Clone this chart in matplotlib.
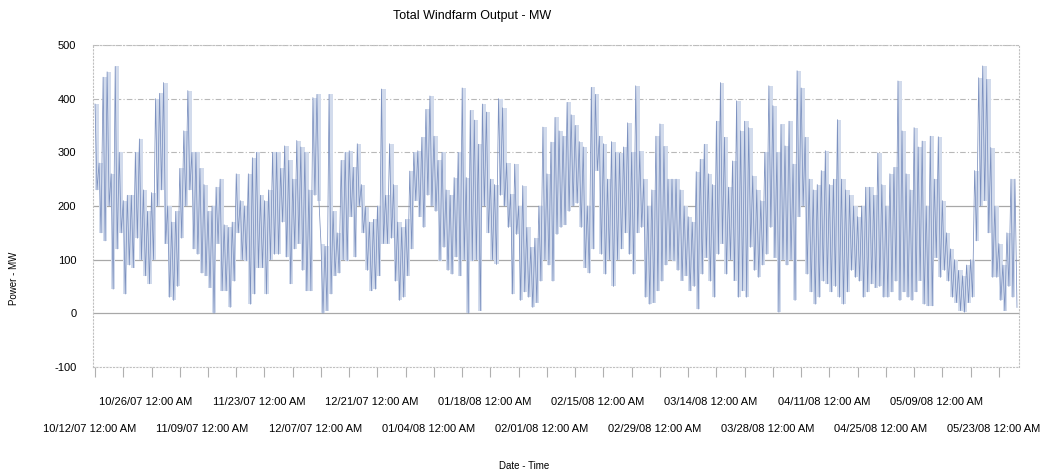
import numpy as np
import matplotlib
matplotlib.use('Agg')
import matplotlib.pyplot as plt
import matplotlib.dates as mdates
import matplotlib.transforms as mtransforms

plt.rcParams['font.family'] = ['Liberation Sans', 'DejaVu Sans']
plt.rcParams['axes.unicode_minus'] = False

# daily high / low of the windfarm output (MW), from 10/12/07
day_high = [390, 280, 440, 450, 260, 460, 300, 210, 220, 220,
            300, 325, 230, 190, 225, 400, 410, 430, 200, 170,
            190, 270, 340, 415, 300, 300, 270, 240, 190, 200,
            235, 250, 165, 160, 170, 260, 210, 200, 260, 290,
            300, 220, 210, 230, 300, 300, 270, 312, 285, 250,
            322, 310, 300, 230, 402, 408, 130, 125, 408, 190,
            150, 285, 300, 303, 272, 316, 240, 198, 170, 175,
            200, 418, 220, 316, 240, 170, 160, 175, 265, 300,
            303, 328, 380, 405, 330, 285, 300, 230, 220, 253,
            300, 420, 253, 378, 360, 315, 390, 375, 250, 240,
            400, 383, 280, 222, 278, 200, 238, 160, 123, 140,
            200, 347, 260, 319, 365, 340, 330, 393, 370, 350,
            320, 310, 200, 421, 408, 330, 316, 250, 320, 300,
            298, 310, 355, 300, 424, 302, 250, 200, 230, 330,
            353, 311, 250, 250, 250, 230, 200, 180, 170, 264,
            287, 315, 260, 240, 358, 430, 328, 235, 284, 396,
            340, 358, 346, 256, 230, 210, 300, 424, 387, 300,
            352, 312, 358, 278, 452, 420, 328, 250, 230, 240,
            266, 303, 240, 250, 361, 250, 230, 220, 200, 180,
            200, 235, 235, 220, 299, 240, 200, 260, 272, 433,
            340, 260, 230, 346, 310, 321, 200, 330, 250, 329,
            210, 150, 120, 100, 80, 70, 90, 100, 266, 439,
            461, 436, 309, 200, 130, 90, 150, 250, 250]

day_low = [230, 150, 135, 200, 45, 120, 150, 36, 90, 85,
           140, 100, 70, 55, 100, 200, 230, 130, 30, 24,
           50, 140, 200, 230, 120, 110, 75, 70, 48, 0,
           130, 42, 42, 11, 60, 150, 100, 98, 17, 36,
           85, 85, 36, 100, 110, 110, 170, 105, 55, 120,
           130, 80, 42, 42, 220, 210, 0, 5, 36, 70,
           75, 100, 98, 180, 105, 200, 150, 80, 42, 45,
           70, 130, 130, 140, 60, 24, 30, 70, 120, 210,
           180, 160, 220, 200, 190, 98, 123, 80, 73, 105,
           70, 100, 0, 98, 100, 5, 200, 150, 100, 91,
           220, 200, 160, 36, 147, 24, 40, 30, 11, 20,
           60, 100, 90, 60, 147, 160, 165, 190, 200, 205,
           160, 85, 75, 120, 266, 110, 73, 100, 50, 100,
           120, 150, 110, 73, 150, 160, 30, 17, 20, 42,
           60, 90, 100, 98, 80, 61, 70, 42, 50, 8,
           73, 104, 60, 30, 110, 130, 73, 100, 61, 30,
           42, 30, 123, 80, 67, 90, 110, 160, 104, 2,
           100, 90, 100, 24, 180, 200, 73, 40, 17, 30,
           60, 55, 40, 50, 30, 17, 40, 80, 67, 60,
           30, 40, 55, 48, 50, 30, 30, 40, 60, 24,
           40, 30, 24, 40, 61, 17, 14, 14, 104, 67,
           80, 60, 30, 20, 5, 2, 20, 30, 135, 200,
           210, 150, 67, 67, 24, 5, 50, 30, 11]

start = np.datetime64('2007-10-12T00:00')
upper_labels = ['10/26/07', '11/23/07', '12/21/07', '01/18/08',
                '02/15/08', '03/14/08', '04/11/08', '05/09/08']
lower_labels = ['10/12/07', '11/09/07', '12/07/07', '01/04/08', '02/01/08',
                '02/29/08', '03/28/08', '04/25/08', '05/23/08']

n = len(day_high)
hours = np.empty(2 * n, dtype=int)
hours[0::2] = np.arange(n) * 24
hours[1::2] = np.arange(n) * 24 + 12
times = (start + hours.astype('timedelta64[h]')).astype('datetime64[s]').astype(object)
power = np.empty(2 * n)
power[0::2] = day_high
power[1::2] = day_low
days = (start + (np.arange(n) * 24).astype('timedelta64[h]')).astype('datetime64[s]').astype(object)

fig = plt.figure(figsize=(10.54, 4.74), dpi=100)
ax = fig.add_axes([93 / 1054, 1 - 367 / 474, 926 / 1054, 322 / 474])

ax.fill_between(days, day_low, day_high, step='post', color='#d2dbec',
                lw=0, zorder=1)
ax.plot(times, power, color='#7b90bf', lw=0.55, zorder=2)

ax.set_ylim(-100, 500)
ax.set_yticks(range(-100, 501, 100))
x0 = mdates.date2num(start.astype(object))
ax.set_xlim(x0 - 0.5, x0 + 229)

for v in [500, 400, 300, -100]:
    ax.axhline(v, color='#b8b8b8', lw=0.8, ls=(0, (5, 2, 1, 2)), zorder=0)
for v in [200, 100, 0]:
    ax.axhline(v, color='#a8a8a8', lw=0.9, zorder=0)

for s in ax.spines.values():
    s.set_color('#c0c0c0')
    s.set_linewidth(0.8)
    s.set_linestyle((0, (1, 2)))

ax.tick_params(axis='y', length=0, pad=12, labelsize=8)
ax.xaxis.set_major_locator(mdates.DayLocator(interval=7))
ax.tick_params(axis='x', length=7, color='#b0b0b0', labelbottom=False)

off = mtransforms.ScaledTranslation(-5.5 / 100, 0, fig.dpi_scale_trans)
trans = mtransforms.blended_transform_factory(ax.transData, ax.transAxes) + off
for row_y, labels in [(-0.108, upper_labels), (-0.193, lower_labels)]:
    for lab in labels:
        d = np.datetime64('20' + lab[6:8] + '-' + lab[0:2] + '-' + lab[3:5])
        ax.text(mdates.date2num(d.astype(object)), row_y, lab + ' 12:00 AM',
                transform=trans, ha='center', va='center', fontsize=8)

fig.text(472 / 1054, 1 - 16 / 474, 'Total Windfarm Output - MW',
         ha='center', va='center', fontsize=9)
fig.text(14 / 1054, 1 - 278 / 474, 'Power - MW', rotation=90,
         ha='center', va='center', fontsize=7)
fig.text(524 / 1054, 1 - 466 / 474, 'Date - Time',
         ha='center', va='center', fontsize=7)

fig.savefig('out.png', dpi=100)
